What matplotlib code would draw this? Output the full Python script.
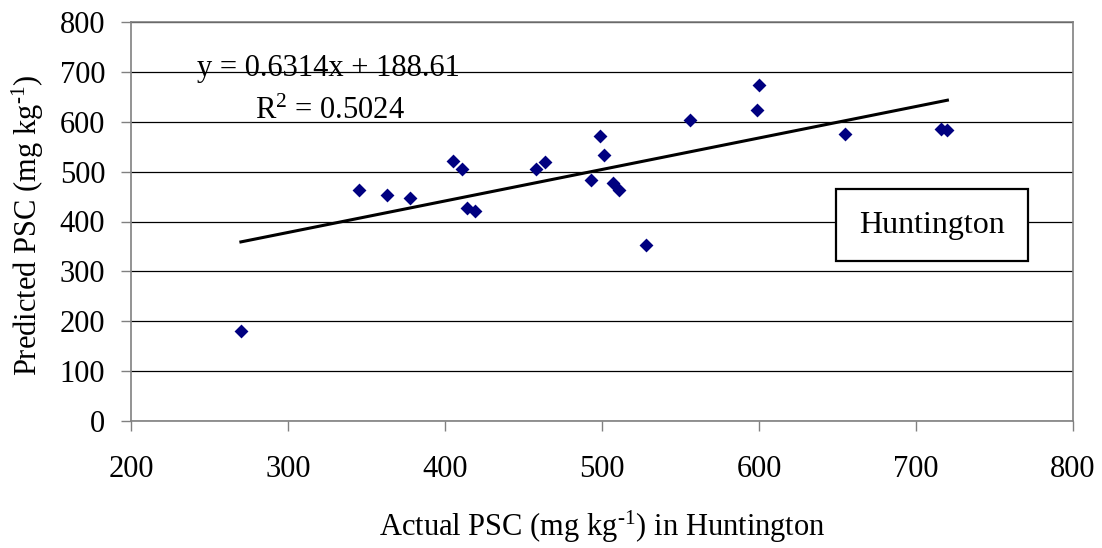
import numpy as np
import matplotlib
matplotlib.use('Agg')
import matplotlib.pyplot as plt
from matplotlib.patches import Rectangle

# values
actual = [270, 345, 363, 378, 405, 411, 414, 419, 458, 464, 493,
          499, 501, 507, 511, 528, 556, 600, 599, 655, 716, 720]
predicted = [180, 464, 453, 448, 521, 506, 427, 422, 505, 520, 483,
             572, 533, 477, 463, 352, 604, 673, 624, 575, 586, 584]
slope = 0.6314
intercept = 188.61
r2 = 0.5024
site = 'Huntington'

xticks = [200, 300, 400, 500, 600, 700, 800]
yticks = [0, 100, 200, 300, 400, 500, 600, 700, 800]

plt.rc('font', family='Liberation Serif')
plt.rc('mathtext', fontset='custom', rm='Liberation Serif', it='Liberation Serif')

fig = plt.figure(figsize=(11.02, 5.48), dpi=100)
ax = fig.add_axes([131/1102, 127/548, 942/1102, 399/548])

ax.scatter(actual, predicted, marker='D', s=50, color='#000080', zorder=3, linewidths=0)

xfit = np.array([min(actual), max(actual)])
ax.plot(xfit, slope * xfit + intercept, color='black', linewidth=2.2, zorder=4)

ax.set_xlim(xticks[0], xticks[-1])
ax.set_ylim(yticks[0], yticks[-1])
ax.set_xticks(xticks)
ax.set_yticks(yticks)
ax.yaxis.grid(True, color='black', linewidth=0.9)
ax.set_axisbelow(True)
for s in ax.spines.values():
  s.set_color('#808080')
  s.set_linewidth(1.2)
ax.tick_params(axis='both', direction='out', color='#808080', length=7.5, width=1.0, labelsize=22)
ax.tick_params(axis='x', pad=17)
ax.tick_params(axis='y', pad=11)

sup = r'$^{\text{-}1}$'
ax.set_xlabel('Actual PSC (mg kg' + sup + ') in Huntington', fontsize=22, va='center')
ax.xaxis.set_label_coords(0.5, -0.265)
ax.set_ylabel('Predicted PSC (mg kg' + sup + ')', fontsize=22, va='center')
ax.yaxis.set_label_coords(-0.109, 0.49)

ax.text(0.2097, 0.8847, 'y = {:.4f}x + {:.2f}'.format(slope, intercept), transform=ax.transAxes,
        fontsize=22, ha='center', va='center', zorder=5)
ax.text(0.2113, 0.775, 'R$^2$ = {:.4f}'.format(r2), transform=ax.transAxes,
        fontsize=22, ha='center', va='center', zorder=5)

box = Rectangle((0.7484, 0.401), 0.2038, 0.1805, transform=ax.transAxes,
                facecolor='white', edgecolor='black', linewidth=1.6, zorder=5)
ax.add_patch(box)
ax.text(0.8503, 0.491, site, transform=ax.transAxes, fontsize=23,
        ha='center', va='center', zorder=6)

plt.savefig('out.png', dpi=100)
